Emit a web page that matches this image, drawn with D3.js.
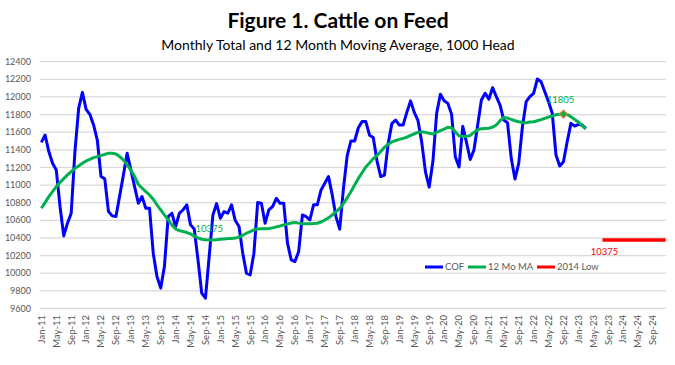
<!DOCTYPE html>
<html>
<head>
<meta charset="utf-8">
<script src="https://cdn.jsdelivr.net/npm/d3@7"></script>
<style>
body { margin: 0; background: #fff; }
text { font-family: Lato, "Liberation Sans", sans-serif; }
</style>
</head>
<body>
<svg width="675" height="365"></svg>
<script>
var svg = d3.select("svg"),
	plot = {left: 39.5, right: 666, top: 61.7, bottom: 308.4};

// categories: Jan-11 .. Dec-24
var monthNames = ["Jan", "Feb", "Mar", "Apr", "May", "Jun", "Jul", "Aug", "Sep", "Oct", "Nov", "Dec"];
var years = ["11", "12", "13", "14", "15", "16", "17", "18", "19", "20", "21", "22", "23", "24"];
var months = [];
years.forEach(function(yr) {
	monthNames.forEach(function(mn) { months.push(mn + "-" + yr); });
});

// cattle on feed, 1000 head, Jan-11 .. Mar-23
var cof = [
	11485, 11568, 11380, 11247, 11171, 10760, 10423, 10567, 10680, 11379, 11871, 12052,
	11859, 11803, 11682, 11511, 11096, 11070, 10699, 10650, 10642, 10877, 11115, 11360,
	11172, 10983, 10794, 10869, 10737, 10737, 10226, 9962, 9830, 10075, 10642, 10680,
	10529, 10680, 10718, 10775, 10548, 10500, 10151, 9773, 9716, 10189, 10661, 10790,
	10623, 10699, 10680, 10775, 10597, 10529, 10227, 10000, 9981, 10227, 10801, 10793,
	10567, 10718, 10756, 10850, 10793, 10793, 10340, 10151, 10132, 10245, 10661, 10642,
	10604, 10775, 10775, 10945, 11020, 11096, 10888, 10642, 10500, 10960, 11330, 11500,
	11500, 11650, 11720, 11720, 11566, 11540, 11275, 11096, 11114, 11470, 11700, 11738,
	11681, 11681, 11825, 11955, 11825, 11730, 11485, 11150, 10977, 11270, 11814, 12031,
	11957, 11927, 11805, 11322, 11205, 11666, 11485, 11290, 11397, 11681, 11965, 12041,
	11973, 12105, 12003, 11908, 11738, 11708, 11303, 11068, 11246, 11662, 11946, 12003,
	12041, 12203, 12173, 12059, 11946, 11814, 11341, 11216, 11265, 11492, 11700, 11670,
	11689, 11681, 11643
];

// 12 month moving average, Jan-11 .. Mar-23
var ma12 = [
	10737, 10801, 10869, 10926, 10982, 11028, 11073, 11115, 11153, 11190, 11217, 11247,
	11274, 11292, 11311, 11323, 11334, 11349, 11360, 11360, 11353, 11323, 11285, 11228,
	11171, 11096, 11009, 10964, 10926, 10888, 10839, 10775, 10718, 10661, 10605, 10548,
	10502, 10483, 10472, 10461, 10446, 10420, 10400, 10385, 10378, 10375, 10377, 10380,
	10384, 10388, 10392, 10394, 10398, 10410, 10430, 10453, 10472, 10491, 10502, 10504,
	10505, 10508, 10514, 10525, 10536, 10548, 10559, 10570, 10574, 10568, 10562, 10560,
	10560, 10563, 10567, 10580, 10604, 10628, 10660, 10695, 10735, 10790, 10855, 10925,
	11000, 11075, 11140, 11205, 11250, 11300, 11335, 11380, 11428, 11465, 11490, 11505,
	11518, 11530, 11543, 11563, 11582, 11598, 11604, 11598, 11587, 11579, 11598, 11617,
	11636, 11655, 11650, 11605, 11558, 11550, 11552, 11563, 11598, 11628, 11640, 11643,
	11645, 11658, 11682, 11730, 11767, 11760, 11745, 11730, 11719, 11710, 11708, 11715,
	11719, 11730, 11742, 11757, 11772, 11783, 11798, 11804, 11805, 11800, 11776, 11745,
	11715, 11677, 11636
];

var lowValue = 10375,
	lowFrom = "Aug-23",
	lowTo = "Dec-24",
	lowMonth = "Oct-14",
	peakMonth = "Sep-22";

var yTicks = [9600, 9800, 10000, 10200, 10400, 10600, 10800, 11000, 11200, 11400, 11600, 11800, 12000, 12200, 12400];
var xTickLabels = months.filter(function(d, i) { return i % 4 == 0; });

var x = d3.scalePoint()
	.domain(months)
	.range([plot.left, plot.right])
	.padding(0.5);

var y = d3.scaleLinear()
	.domain([9600, 12400])
	.range([plot.bottom, plot.top]);

// titles
svg.append("text")
	.attr("x", 338)
	.attr("y", 28)
	.attr("text-anchor", "middle")
	.style("font-size", "21px")
	.style("font-weight", "bold")
	.style("fill", "#000")
	.text("Figure 1. Cattle on Feed");

svg.append("text")
	.attr("x", 338)
	.attr("y", 50)
	.attr("text-anchor", "middle")
	.style("font-size", "14px")
	.style("fill", "#000")
	.text("Monthly Total and 12 Month Moving Average, 1000 Head");

// gridlines
svg.append("g")
	.selectAll("line")
	.data(yTicks)
	.enter()
	.append("line")
	.attr("x1", plot.left)
	.attr("x2", plot.right)
	.attr("y1", function(d) { return y(d); })
	.attr("y2", function(d) { return y(d); })
	.style("stroke", "#d9d9d9")
	.style("stroke-width", 1.3);

// y axis labels
svg.append("g")
	.selectAll("text")
	.data(yTicks)
	.enter()
	.append("text")
	.attr("x", 31)
	.attr("y", function(d) { return y(d); })
	.attr("dy", "0.35em")
	.attr("text-anchor", "end")
	.style("font-size", "9px")
	.style("fill", "#595959")
	.text(function(d) { return d; });

// x axis labels
svg.append("g")
	.selectAll("text")
	.data(xTickLabels)
	.enter()
	.append("text")
	.attr("transform", function(d) { return "translate(" + x(d) + ",315) rotate(-90)"; })
	.attr("dy", "0.35em")
	.attr("text-anchor", "end")
	.style("font-size", "9.5px")
	.style("fill", "#595959")
	.text(function(d) { return d; });

var line = d3.line()
	.x(function(d, i) { return x(months[i]); })
	.y(function(d) { return y(d); });

svg.append("path")
	.datum(cof)
	.attr("fill", "none")
	.attr("stroke", "#0000ff")
	.attr("stroke-width", 3)
	.attr("stroke-linejoin", "round")
	.attr("d", line);

svg.append("path")
	.datum(ma12)
	.attr("fill", "none")
	.attr("stroke", "#00b050")
	.attr("stroke-width", 3)
	.attr("stroke-linejoin", "round")
	.attr("d", line);

// 2014 low reference line
svg.append("line")
	.attr("x1", x(lowFrom) - 2)
	.attr("x2", x(lowTo) + 1.5)
	.attr("y1", y(lowValue))
	.attr("y2", y(lowValue))
	.style("stroke", "#ff0000")
	.style("stroke-width", 3.5);

svg.append("text")
	.attr("x", x(lowFrom))
	.attr("y", y(lowValue) + 15)
	.attr("text-anchor", "middle")
	.style("font-size", "9.5px")
	.style("fill", "#ff0000")
	.text(lowValue);

// moving average labels
svg.append("text")
	.attr("x", x(lowMonth))
	.attr("y", y(ma12[months.indexOf(lowMonth)]) - 8)
	.attr("text-anchor", "middle")
	.style("font-size", "9.5px")
	.style("fill", "#00b050")
	.text(ma12[months.indexOf(lowMonth)]);

var peakValue = ma12[months.indexOf(peakMonth)];
svg.append("path")
	.attr("d", d3.symbol().type(d3.symbolDiamond2).size(40))
	.attr("transform", "translate(" + x(peakMonth) + "," + y(peakValue) + ")")
	.style("fill", "#00b050")
	.style("stroke", "#ed7d31")
	.style("stroke-width", 1.2);

svg.append("text")
	.attr("x", x(peakMonth) - 3)
	.attr("y", y(peakValue) - 11)
	.attr("text-anchor", "middle")
	.style("font-size", "9.5px")
	.style("fill", "#00b050")
	.text(peakValue);

// legend
var legend = [
	{name: "COF", color: "#0000ff", x: 425},
	{name: "12 Mo MA", color: "#00b050", x: 468},
	{name: "2014 Low", color: "#ff0000", x: 537}
];
var lg = svg.append("g")
	.selectAll("g")
	.data(legend)
	.enter()
	.append("g")
	.attr("transform", function(d) { return "translate(" + d.x + ",267)"; });
lg.append("line")
	.attr("x1", 0)
	.attr("x2", 18)
	.style("stroke", function(d) { return d.color; })
	.style("stroke-width", 3);
lg.append("text")
	.attr("x", 20)
	.attr("dy", "0.35em")
	.style("font-size", "9.5px")
	.style("fill", "#595959")
	.text(function(d) { return d.name; });
</script>
</body>
</html>
